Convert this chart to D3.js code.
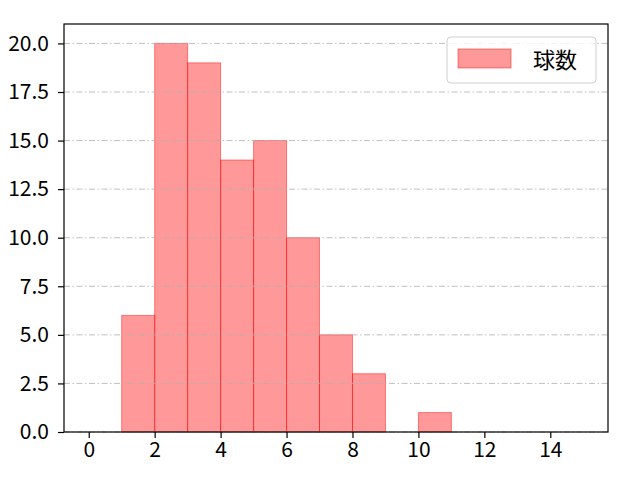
<!DOCTYPE html>
<html>
<head>
<meta charset="utf-8">
<script src="https://cdn.jsdelivr.net/npm/d3@7"></script>
<style>
  body { margin: 0; background: #fff; }
  text { font-family: "Noto Sans CJK JP", "DejaVu Sans", sans-serif; }
</style>
</head>
<body>
<div id="chart"></div>
<script>
// histogram bins (left edge, right edge) and counts
const binStarts = [1, 2, 3, 4, 5, 6, 7, 8, 9, 10];
const binEnds = [2, 3, 4, 5, 6, 7, 8, 9, 10, 11];
const counts = [6, 20, 19, 14, 15, 10, 5, 3, 0, 1];
const xTicks = [0, 2, 4, 6, 8, 10, 12, 14];
const yTicks = [0, 2.5, 5, 7.5, 10, 12.5, 15, 17.5, 20];
const seriesName = '球数';

const W = 640, H = 480;
const margin = { top: 24, right: 32, bottom: 48, left: 64 };
const width = W - margin.left - margin.right;
const height = H - margin.top - margin.bottom;

const svg = d3.select('#chart')
    .append('svg')
    .attr('width', W)
    .attr('height', H);

const g = svg.append('g')
    .attr('transform', `translate(${margin.left},${margin.top})`);

const x = d3.scaleLinear().domain([-0.75, 15.75]).range([0, width]);
const y = d3.scaleLinear().domain([0, 21]).range([height, 0]);

const data = binStarts.map((s, i) => ({ x0: s, x1: binEnds[i], n: counts[i] }));

// bars
g.selectAll('rect.bar')
    .data(data.filter(d => d.n > 0))
    .enter().append('rect')
    .attr('class', 'bar')
    .attr('x', d => x(d.x0))
    .attr('y', d => y(d.n))
    .attr('width', d => x(d.x1) - x(d.x0))
    .attr('height', d => y(0) - y(d.n))
    .attr('fill', 'rgba(255,0,0,0.4)')
    .attr('stroke', 'rgba(255,0,0,0.45)')
    .attr('stroke-width', 1);

// grid (drawn over bars like the original)
g.selectAll('line.grid')
    .data(yTicks)
    .enter().append('line')
    .attr('class', 'grid')
    .attr('x1', 0)
    .attr('x2', width)
    .attr('y1', d => y(d))
    .attr('y2', d => y(d))
    .attr('stroke', '#b0b0b0')
    .attr('stroke-width', 0.8)
    .attr('stroke-dasharray', '6,2.5,1.5,2.5');

// axes
const xAxis = g.append('g')
    .attr('transform', `translate(0,${height})`)
    .call(d3.axisBottom(x).tickValues(xTicks).tickSize(6).tickPadding(4).tickFormat(d3.format('d')));

const yAxis = g.append('g')
    .call(d3.axisLeft(y).tickValues(yTicks).tickSize(6).tickPadding(9).tickFormat(d3.format('.1f')));

[xAxis, yAxis].forEach(a => {
    a.select('.domain').remove();
    a.selectAll('.tick line').attr('stroke', '#000').attr('stroke-width', 1.2);
    a.selectAll('.tick text').attr('fill', '#000').style('font-size', '21px');
});

// frame
g.append('rect')
    .attr('x', 0)
    .attr('y', 0)
    .attr('width', width)
    .attr('height', height)
    .attr('fill', 'none')
    .attr('stroke', '#000')
    .attr('stroke-width', 1.2);

// legend
const lg = g.append('g').attr('transform', `translate(${width - 161},${13})`);
lg.append('rect')
    .attr('width', 149)
    .attr('height', 46)
    .attr('rx', 4)
    .attr('fill', 'rgba(255,255,255,0.8)')
    .attr('stroke', '#d0d0d0');
lg.append('rect')
    .attr('x', 11)
    .attr('y', 12)
    .attr('width', 53)
    .attr('height', 19)
    .attr('fill', 'rgba(255,0,0,0.4)')
    .attr('stroke', 'rgba(255,0,0,0.45)');
lg.append('text')
    .attr('x', 86)
    .attr('y', 31)
    .style('font-size', '22px')
    .attr('fill', '#000')
    .text(seriesName);
</script>
</body>
</html>
